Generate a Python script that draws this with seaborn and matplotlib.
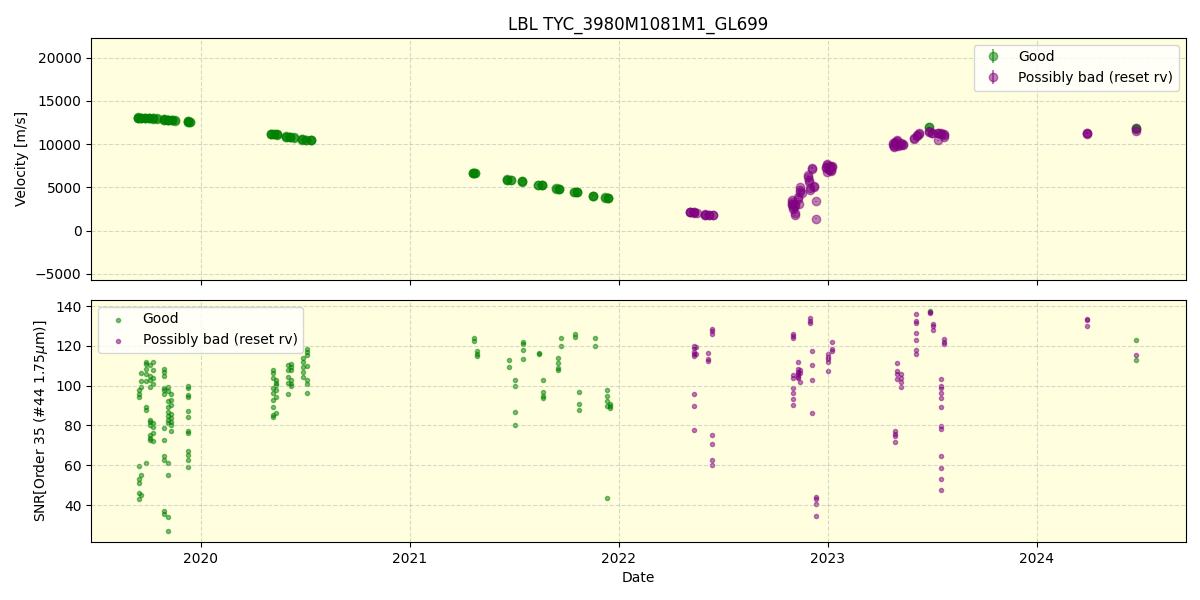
import pandas as pd
import matplotlib
matplotlib.use("Agg")
import matplotlib.pyplot as plt
import seaborn as sns

# --- Configuration ---
TITLE = "LBL TYC_3980M1081M1_GL699"
GOOD_LABEL = "Good"
BAD_LABEL = "Possibly bad (reset rv)"
X_RANGE = ("2019-06-24", "2024-09-17")

# --- Velocity data (top panel) ---
good_rv_dates = [
    "2019-09-13", "2019-09-13", "2019-09-13", "2019-09-13",
    "2019-09-19", "2019-09-19", "2019-09-19",
    "2019-09-26", "2019-09-26", "2019-09-26",
    "2019-10-03", "2019-10-03", "2019-10-03",
    "2019-10-10", "2019-10-10", "2019-10-10",
    "2019-10-17", "2019-10-17",
    "2019-10-29", "2019-10-29", "2019-10-29", "2019-10-29",
    "2019-11-05", "2019-11-05", "2019-11-05", "2019-11-05",
    "2019-11-12", "2019-11-12", "2019-11-12",
    "2019-11-17", "2019-11-17",
    "2019-12-10", "2019-12-10", "2019-12-10", "2019-12-10",
    "2019-12-13", "2019-12-13",
    "2020-05-03", "2020-05-03", "2020-05-03",
    "2020-05-08", "2020-05-08",
    "2020-05-14", "2020-05-14", "2020-05-14",
    "2020-05-30", "2020-05-30", "2020-05-30",
    "2020-06-06", "2020-06-06", "2020-06-06",
    "2020-06-13", "2020-06-13",
    "2020-06-27", "2020-06-27", "2020-06-27",
    "2020-07-04", "2020-07-04",
    "2020-07-12", "2020-07-12", "2020-07-12",
    "2021-04-21", "2021-04-21", "2021-04-21",
    "2021-04-24", "2021-04-24",
    "2021-06-19", "2021-06-19", "2021-06-19",
    "2021-06-27", "2021-06-27",
    "2021-07-15", "2021-07-15", "2021-07-15",
    "2021-08-13", "2021-08-13",
    "2021-08-19", "2021-08-19", "2021-08-19",
    "2021-09-13", "2021-09-13",
    "2021-09-19", "2021-09-19", "2021-09-19",
    "2021-10-14", "2021-10-14",
    "2021-10-20", "2021-10-20", "2021-10-20",
    "2021-11-17", "2021-11-17", "2021-11-17",
    "2021-12-08", "2021-12-08",
    "2021-12-13", "2021-12-13", "2021-12-13",
    "2023-06-27", "2023-06-27",
    "2024-06-22", "2024-06-22",
]
good_rv = [
    13080, 13060, 13040, 13070,
    13050, 13030, 13060,
    13020, 13000, 13040,
    13000, 12980, 13010,
    12990, 12970, 12960,
    12970, 12950,
    12850, 12830, 12870, 12800,
    12800, 12780, 12760, 12820,
    12760, 12740, 12780,
    12740, 12720,
    12640, 12600, 12580, 12620,
    12570, 12600,
    11200, 11180, 11150,
    11170, 11140,
    11120, 11100, 11140,
    10900, 10870, 10850,
    10840, 10810, 10800,
    10780, 10760,
    10560, 10540, 10520,
    10510, 10490,
    10470, 10450, 10480,
    6700, 6680, 6660,
    6640, 6620,
    5930, 5900, 5880,
    5890, 5860,
    5720, 5690, 5670,
    5320, 5290,
    5260, 5230, 5210,
    4880, 4860,
    4840, 4820, 4800,
    4490, 4470,
    4440, 4410, 4400,
    4050, 4030, 4010,
    3830, 3810,
    3790, 3770, 3760,
    11950, 11920,
    11900, 11850,
]
good_rv_err = 40

bad_rv_dates = [
    "2022-05-06", "2022-05-06", "2022-05-06",
    "2022-05-12", "2022-05-12", "2022-05-12",
    "2022-05-18",
    "2022-06-01", "2022-06-01", "2022-06-01",
    "2022-06-08", "2022-06-08",
    "2022-06-15", "2022-06-15",
    "2022-10-30", "2022-10-30",
    "2022-10-31", "2022-10-31",
    "2022-11-01", "2022-11-01",
    "2022-11-04", "2022-11-04",
    "2022-11-05", "2022-11-05",
    "2022-11-10", "2022-11-10",
    "2022-11-12",
    "2022-11-14", "2022-11-14", "2022-11-14",
    "2022-11-17",
    "2022-11-28", "2022-11-28",
    "2022-11-29", "2022-11-29",
    "2022-12-01", "2022-12-01",
    "2022-12-05", "2022-12-05",
    "2022-12-07", "2022-12-07",
    "2022-12-12", "2022-12-12",
    "2022-12-29", "2022-12-29",
    "2022-12-30",
    "2022-12-31", "2022-12-31",
    "2023-01-03", "2023-01-03",
    "2023-01-05", "2023-01-05",
    "2023-01-07", "2023-01-07",
    "2023-01-09", "2023-01-09",
    "2023-04-24", "2023-04-24",
    "2023-04-26", "2023-04-26",
    "2023-04-28", "2023-04-28",
    "2023-05-01", "2023-05-01",
    "2023-05-03", "2023-05-03",
    "2023-05-08", "2023-05-08",
    "2023-05-12", "2023-05-12",
    "2023-06-01", "2023-06-01",
    "2023-06-05", "2023-06-05",
    "2023-06-09", "2023-06-09",
    "2023-06-26", "2023-06-26",
    "2023-07-02", "2023-07-02",
    "2023-07-12", "2023-07-12", "2023-07-12",
    "2023-07-18", "2023-07-18",
    "2023-07-23", "2023-07-23", "2023-07-23",
    "2024-03-28", "2024-03-28", "2024-03-28",
    "2024-06-22", "2024-06-22",
]
bad_rv = [
    2170, 2150, 2130,
    2110, 2090, 2070,
    2060,
    1870, 1850, 1830,
    1820, 1800,
    1790, 1780,
    2900, 3100,
    3500, 3300,
    2500, 2700,
    1750, 2000,
    3100, 2850,
    3880, 3700,
    3100,
    4450, 5040, 4700,
    4300,
    6400, 6200,
    5800, 5600,
    4650, 4900,
    7290, 7150,
    5040, 5200,
    3370, 1360,
    7360, 7200,
    6780,
    7750, 7600,
    7170, 7050,
    7440, 7300,
    6980, 6850,
    7300, 7500,
    10080, 9950,
    9690, 9800,
    10270, 10150,
    10460, 10300,
    9880, 9750,
    10080, 9950,
    9950, 10050,
    10660, 10550,
    11050, 10900,
    11320, 11200,
    11430, 11500,
    11240, 11300,
    11320, 11250, 10460,
    11240, 11150,
    11160, 11100, 10800,
    11240, 11300, 11200,
    11750, 11550,
]
bad_rv_err = 60

# --- SNR data (bottom panel) ---
good_snr_dates = [
    "2019-09-15", "2019-09-15", "2019-09-15", "2019-09-15", "2019-09-15", "2019-09-15", "2019-09-15", "2019-09-15",
    "2019-09-19", "2019-09-19", "2019-09-19", "2019-09-19", "2019-09-19",
    "2019-09-28", "2019-09-28", "2019-09-28", "2019-09-28", "2019-09-28", "2019-09-28", "2019-09-28", "2019-09-28",
    "2019-10-04", "2019-10-04", "2019-10-04", "2019-10-04", "2019-10-04", "2019-10-04", "2019-10-04", "2019-10-04", "2019-10-04", "2019-10-04",
    "2019-10-10", "2019-10-10", "2019-10-10", "2019-10-10", "2019-10-10", "2019-10-10", "2019-10-10", "2019-10-10",
    "2019-10-30", "2019-10-30", "2019-10-30", "2019-10-30", "2019-10-30", "2019-10-30", "2019-10-30", "2019-10-30", "2019-10-30", "2019-10-30", "2019-10-30", "2019-10-30",
    "2019-11-05", "2019-11-05", "2019-11-05", "2019-11-05", "2019-11-05", "2019-11-05", "2019-11-05", "2019-11-05", "2019-11-05", "2019-11-05", "2019-11-05", "2019-11-05",
    "2019-11-10", "2019-11-10", "2019-11-10", "2019-11-10", "2019-11-10", "2019-11-10", "2019-11-10", "2019-11-10",
    "2019-12-10", "2019-12-10", "2019-12-10", "2019-12-10", "2019-12-10", "2019-12-10", "2019-12-10", "2019-12-10", "2019-12-10", "2019-12-10", "2019-12-10", "2019-12-10",
    "2020-05-06", "2020-05-06", "2020-05-06", "2020-05-06", "2020-05-06", "2020-05-06", "2020-05-06", "2020-05-06", "2020-05-06",
    "2020-05-12", "2020-05-12", "2020-05-12", "2020-05-12", "2020-05-12", "2020-05-12",
    "2020-06-01", "2020-06-01", "2020-06-01", "2020-06-01", "2020-06-01",
    "2020-06-07", "2020-06-07", "2020-06-07", "2020-06-07", "2020-06-07", "2020-06-07",
    "2020-06-28", "2020-06-28", "2020-06-28", "2020-06-28", "2020-06-28",
    "2020-07-05", "2020-07-05", "2020-07-05", "2020-07-05", "2020-07-05", "2020-07-05", "2020-07-05",
    "2021-04-23", "2021-04-23",
    "2021-04-28", "2021-04-28", "2021-04-28",
    "2021-06-23", "2021-06-23",
    "2021-07-03", "2021-07-03", "2021-07-03", "2021-07-03",
    "2021-07-18", "2021-07-18", "2021-07-18", "2021-07-18",
    "2021-08-15", "2021-08-15",
    "2021-08-22", "2021-08-22", "2021-08-22", "2021-08-22",
    "2021-09-16", "2021-09-16", "2021-09-16", "2021-09-16",
    "2021-09-21", "2021-09-21",
    "2021-10-16", "2021-10-16",
    "2021-10-23", "2021-10-23", "2021-10-23",
    "2021-11-20", "2021-11-20",
    "2021-12-11", "2021-12-11", "2021-12-11", "2021-12-11", "2021-12-11",
    "2021-12-16", "2021-12-16", "2021-12-16",
    "2023-06-28",
    "2024-06-22", "2024-06-22",
]
good_snr = [
    98.0, 96.0, 94.4, 59.5, 53.0, 51.0, 46.0, 43.0,
    102.5, 106.5, 99.5, 55.0, 45.0,
    112.0, 111.0, 108.5, 106.0, 102.5, 89.5, 88.0, 61.0,
    110.5, 105.0, 103.0, 99.5, 83.0, 82.0, 80.0, 75.0, 73.5, 72.5,
    112.0, 108.0, 104.0, 101.0, 81.5, 79.0, 76.0, 72.0,
    108.5, 107.0, 105.0, 99.0, 98.0, 96.0, 78.5, 72.5, 64.5, 62.5, 37.0, 35.5,
    99.5, 97.5, 92.5, 89.5, 87.0, 85.0, 83.0, 81.5, 61.0, 55.0, 34.0, 27.0,
    96.0, 93.0, 90.5, 86.0, 84.0, 82.0, 80.0, 77.0,
    100.0, 99.0, 95.5, 94.5, 87.5, 84.5, 77.0, 76.0, 67.0, 65.0, 62.5, 59.0,
    107.8, 106.2, 103.7, 99.1, 96.4, 92.8, 89.4, 85.5, 84.5,
    102.8, 100.3, 97.8, 94.4, 86.1, 101.5,
    110.4, 107.8, 104.5, 101.5, 95.8,
    109.5, 108.0, 102.8, 101.0, 99.8, 110.8,
    113.7, 112.0, 109.5, 107.0, 104.5,
    118.7, 117.0, 115.4, 110.0, 102.8, 100.8, 96.4,
    124.2, 122.7,
    117.5, 116.2, 115.0,
    112.8, 109.5,
    102.8, 99.8, 87.0, 80.3,
    122.2, 120.8, 117.8, 113.3,
    116.7, 115.8,
    102.8, 96.8, 95.0, 93.8,
    113.8, 111.3, 108.7, 107.8,
    124.0, 120.2,
    125.8, 124.7,
    96.8, 90.8, 87.8,
    124.0, 120.0,
    97.8, 94.8, 92.3, 90.0, 43.3,
    90.0, 88.8, 91.0,
    137.5,
    122.9, 112.9,
]

bad_snr_dates = [
    "2022-05-12", "2022-05-12", "2022-05-12", "2022-05-12", "2022-05-12", "2022-05-12", "2022-05-12", "2022-05-12",
    "2022-05-16", "2022-05-16",
    "2022-06-05", "2022-06-05", "2022-06-05",
    "2022-06-12", "2022-06-12", "2022-06-12", "2022-06-12", "2022-06-12", "2022-06-12", "2022-06-12",
    "2022-11-01", "2022-11-01", "2022-11-01", "2022-11-01", "2022-11-01", "2022-11-01", "2022-11-01", "2022-11-01", "2022-11-01",
    "2022-11-09", "2022-11-09", "2022-11-09", "2022-11-09", "2022-11-09", "2022-11-09", "2022-11-09",
    "2022-11-14", "2022-11-14", "2022-11-14",
    "2022-12-01", "2022-12-01", "2022-12-01",
    "2022-12-05", "2022-12-05", "2022-12-05", "2022-12-05",
    "2022-12-12", "2022-12-12", "2022-12-12", "2022-12-12",
    "2023-01-01", "2023-01-01", "2023-01-01", "2023-01-01", "2023-01-01",
    "2023-01-09", "2023-01-09", "2023-01-09",
    "2023-04-28", "2023-04-28", "2023-04-28", "2023-04-28",
    "2023-05-02", "2023-05-02", "2023-05-02", "2023-05-02",
    "2023-05-09", "2023-05-09", "2023-05-09", "2023-05-09",
    "2023-06-04", "2023-06-04", "2023-06-04", "2023-06-04", "2023-06-04", "2023-06-04", "2023-06-04",
    "2023-06-28", "2023-06-28",
    "2023-07-03", "2023-07-03", "2023-07-03",
    "2023-07-18", "2023-07-18", "2023-07-18", "2023-07-18", "2023-07-18", "2023-07-18",
    "2023-07-18", "2023-07-18", "2023-07-18", "2023-07-18", "2023-07-18", "2023-07-18",
    "2023-07-23", "2023-07-23", "2023-07-23",
    "2024-03-28", "2024-03-28", "2024-03-28",
    "2024-06-22",
]
bad_snr = [
    120.0, 119.2, 117.2, 116.2, 115.0, 95.8, 90.0, 77.8,
    119.5, 116.0,
    116.3, 113.2, 112.2,
    128.7, 127.5, 126.2, 75.3, 70.8, 62.8, 60.3,
    126.2, 125.0, 123.8, 105.3, 103.7, 99.1, 96.4, 93.4, 90.1,
    111.7, 108.2, 107.0, 106.2, 105.3, 103.7, 104.5,
    108.0, 106.5, 102.0,
    134.2, 132.8, 131.7,
    117.3, 110.3, 102.8, 86.3,
    43.8, 42.8, 40.3, 34.3,
    115.8, 114.7, 113.3, 111.7, 107.2,
    122.0, 118.3, 117.5,
    77.0, 75.8, 74.5, 71.8,
    111.3, 107.2, 105.8, 103.3,
    104.0, 101.7, 99.5, 106.0,
    136.3, 132.8, 131.7, 126.7, 122.8, 117.8, 115.8,
    137.0, 136.5,
    131.2, 130.0, 127.8,
    103.3, 100.0, 98.8, 96.2, 93.8, 89.5,
    79.5, 78.3, 64.5, 58.8, 53.3, 47.8,
    123.3, 122.2, 121.2,
    133.8, 133.0, 129.9,
    115.4,
]


def style_axis(ax):
    ax.set_facecolor("lightyellow")
    ax.grid(True, linestyle="--", alpha=0.5)


def main():
    fig, (ax_rv, ax_snr) = plt.subplots(2, 1, figsize=(12, 6), sharex=True)
    fig.subplots_adjust(left=0.076, right=0.988, top=0.937, bottom=0.097, hspace=0.083)

    # Velocity panel
    ax_rv.errorbar(pd.to_datetime(good_rv_dates), good_rv, yerr=good_rv_err,
                   fmt="o", color="green", alpha=0.5, label=GOOD_LABEL)
    ax_rv.errorbar(pd.to_datetime(bad_rv_dates), bad_rv, yerr=bad_rv_err,
                   fmt="o", color="purple", alpha=0.5, label=BAD_LABEL)
    ax_rv.set_ylim(-5700, 22300)
    ax_rv.set_ylabel("Velocity [m/s]")
    ax_rv.set_title(TITLE)
    ax_rv.legend(loc="upper right")
    style_axis(ax_rv)

    # SNR panel
    sns.scatterplot(x=pd.to_datetime(good_snr_dates), y=good_snr, ax=ax_snr,
                    color="green", edgecolor="green", marker="o", s=9,
                    linewidth=1, alpha=0.5, label=GOOD_LABEL)
    sns.scatterplot(x=pd.to_datetime(bad_snr_dates), y=bad_snr, ax=ax_snr,
                    color="purple", edgecolor="purple", marker="o", s=9,
                    linewidth=1, alpha=0.5, label=BAD_LABEL)
    ax_snr.set_ylim(21.5, 143.2)
    ax_snr.set_ylabel("SNR[Order 35 (#44 1.75$\\mu$m)]")
    ax_snr.set_xlabel("Date")
    ax_snr.legend(loc="upper left")
    style_axis(ax_snr)

    ax_snr.set_xlim(pd.to_datetime(X_RANGE[0]), pd.to_datetime(X_RANGE[1]))

    fig.savefig("out.png", dpi=100)
    plt.close(fig)


if __name__ == "__main__":
    main()
